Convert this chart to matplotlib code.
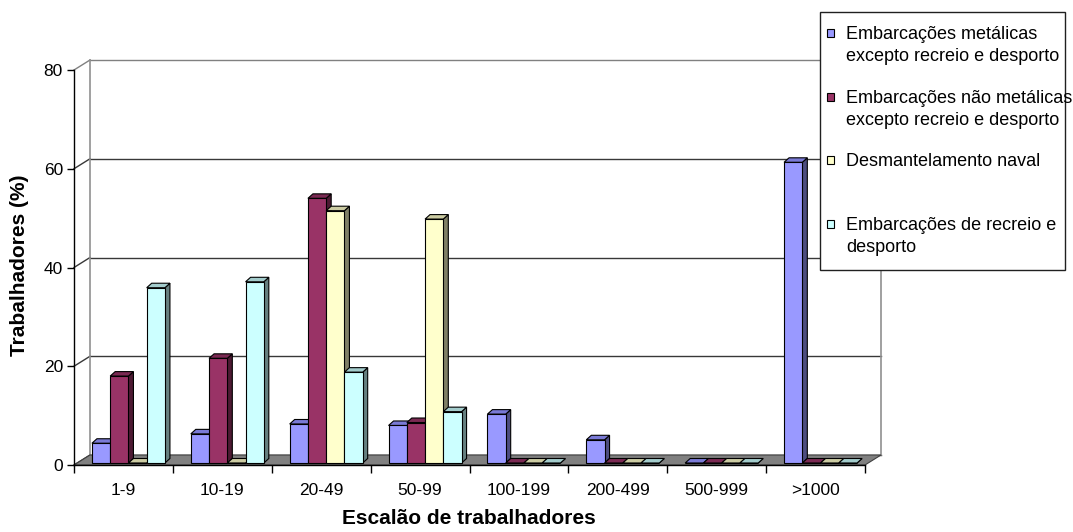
import matplotlib
matplotlib.use("Agg")
import matplotlib.pyplot as plt
from matplotlib.patches import Polygon, Rectangle

plt.rcParams['font.family'] = ['Liberation Sans', 'DejaVu Sans']

categories = ['1-9', '10-19', '20-49', '50-99', '100-199', '200-499', '500-999', '>1000']
metalicas = [4.0, 5.9, 7.9, 7.6, 9.9, 4.7, 0.0, 60.9]
nao_metalicas = [17.6, 21.2, 53.6, 8.2, 0.0, 0.0, 0.0, 0.0]
desmantelamento = [0.0, 0.0, 51.1, 49.4, 0.0, 0.0, 0.0, 0.0]
recreio = [35.5, 36.7, 18.4, 10.4, 0.0, 0.0, 0.0, 0.0]
series = [metalicas, nao_metalicas, desmantelamento, recreio]
series_names = ['Embarcações metálicas\nexcepto recreio e desporto',
                'Embarcações não metálicas\nexcepto recreio e desporto',
                'Desmantelamento naval',
                'Embarcações de recreio e\ndesporto']
yticks = [0, 20, 40, 60, 80]

front_colors = ['#9999FF', '#993366', '#FFFFCC', '#CCFFFF']
top_colors = ['#7A7AD6', '#7A2952', '#CCCCA3', '#A3CCCC']
side_colors = ['#4D4D80', '#4D1A33', '#808066', '#668080']

W, H = 1073, 532
fig = plt.figure(figsize=(W / 100, H / 100), dpi=100)
ax = fig.add_axes([74 / W, 67 / H, 791 / W, 395 / H])
n = len(categories)
ax.set_xlim(-0.5, n - 0.5)
ax.set_ylim(0, 80)

# pixel -> data helpers (3d look is faked with fixed pixel offsets)
ux = 791 / n
uy = 395 / 80.0


def px(dx, dy):
    return dx / ux, dy / uy


wdx, wdy = px(16, 10)      # depth of the floor / walls
fdx, fdy = px(5, 2)        # front face of the bars
sdx, sdy = px(5, 4.5)      # depth of a bar
bw = 18.25 / ux            # bar width

x0, x1 = -0.5, n - 0.5

# back wall gridlines + left wall slants
for v in yticks:
    c = '#808080' if v == 80 else '#383838'
    ax.plot([x0 + wdx, x1 + wdx], [v + wdy, v + wdy], color=c, lw=1, clip_on=False, zorder=1)
    ax.plot([x0, x0 + wdx], [v, v + wdy], color=c, lw=1, clip_on=False, zorder=1)
ax.plot([x0 + wdx, x0 + wdx], [wdy, 80 + wdy], color='#909090', lw=1.2, clip_on=False, zorder=1)
ax.plot([x1 + wdx, x1 + wdx], [wdy, 80 + wdy], color='#909090', lw=1.2, clip_on=False, zorder=1)

# floor
floor = Polygon([(x0, 0), (x1, 0), (x1 + wdx, wdy), (x0 + wdx, wdy)], closed=True,
                facecolor='#808080', edgecolor='#404040', lw=0.8, clip_on=False, zorder=1.5)
ax.add_patch(floor)

# bars
z = 3
for i in range(n):
    for k, vals in enumerate(series):
        v = vals[i]
        left = i - 2 * bw + k * bw + fdx
        right = left + bw
        base = fdy
        top = base + v
        side = Polygon([(right, base), (right + sdx, base + sdy), (right + sdx, top + sdy), (right, top)],
                       closed=True, facecolor=side_colors[k], edgecolor='black', lw=0.8, zorder=z)
        topf = Polygon([(left, top), (right, top), (right + sdx, top + sdy), (left + sdx, top + sdy)],
                       closed=True, facecolor=top_colors[k], edgecolor='black', lw=0.8, zorder=z)
        ax.add_patch(side)
        ax.add_patch(topf)
        ax.bar(left, v, width=bw, bottom=base, align='edge', color=front_colors[k],
               edgecolor='black', linewidth=0.8, zorder=z + 0.5)
        z += 1

for s in ['top', 'right']:
    ax.spines[s].set_visible(False)
for s in ['left', 'bottom']:
    ax.spines[s].set_color('black')
    ax.spines[s].set_linewidth(1)
    ax.spines[s].set_zorder(2)

ax.set_yticks(yticks)
ax.set_yticklabels([str(v) for v in yticks], fontsize=12.5)
ax.tick_params(axis='y', length=5, width=1, pad=3)
ax.set_xticks([i - 0.5 for i in range(n + 1)])
ax.set_xticklabels([''] * (n + 1))
ax.set_xticks(range(n), minor=True)
ax.set_xticklabels(categories, minor=True, fontsize=12.5)
ax.tick_params(axis='x', which='major', length=5.5, width=1)
ax.tick_params(axis='x', which='minor', length=0, pad=13)

fig.text(469 / W, 1 - 519 / H, 'Escalão de trabalhadores', ha='center', va='center',
         fontsize=15, fontweight='bold')
fig.text(20 / W, 1 - 265 / H, 'Trabalhadores (%)', ha='center', va='center',
         rotation=90, fontsize=15, fontweight='bold')

# legend box, drawn by hand to keep the Excel slot layout
fig.add_artist(Rectangle((820 / W, 1 - 270 / H), 245 / W, 258 / H, transform=fig.transFigure,
                         facecolor='white', edgecolor='#202020', lw=1, zorder=10))
baselines = [39, 103, 166, 230]
for k, name in enumerate(series_names):
    b = baselines[k]
    fig.add_artist(Rectangle((827 / W, 1 - (b - 2) / H), 7 / W, 8 / H, transform=fig.transFigure,
                             facecolor=front_colors[k], edgecolor='black', lw=0.8, zorder=11))
    for j, line in enumerate(name.split('\n')):
        fig.text(846 / W, 1 - (b + 22 * j) / H, line, ha='left', va='baseline',
                 fontsize=13, zorder=12)

fig.savefig('out.png', dpi=100)
